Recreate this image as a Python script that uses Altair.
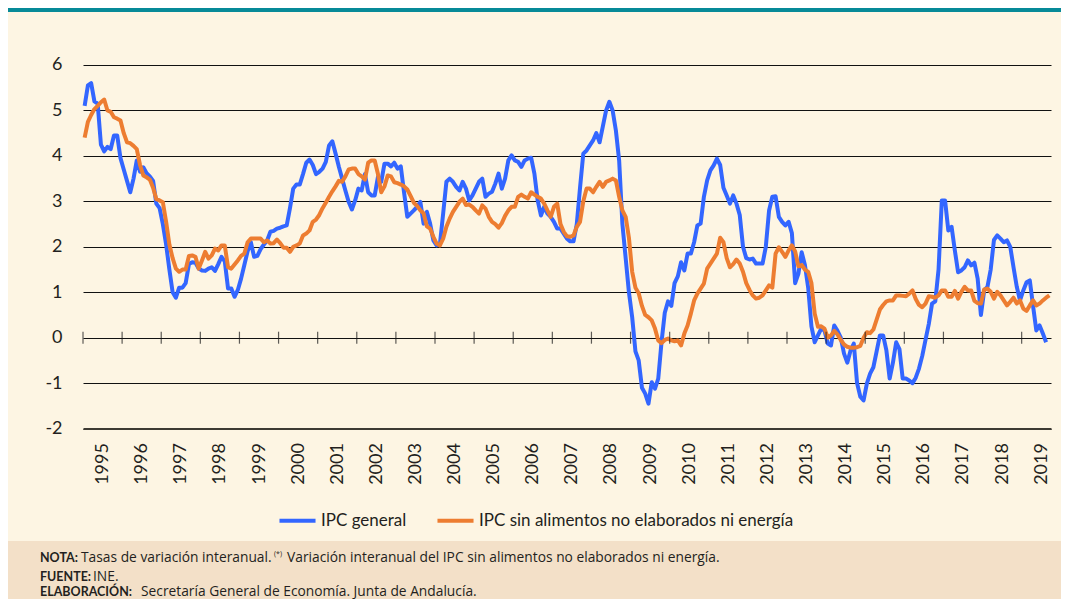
import altair as alt
import pandas as pd

SERIES = ["IPC general", "IPC sin alimentos no elaborados ni energía"]
COLORS = ["#3366ff", "#ed7d31"]
years = list(range(1995, 2020))
y_ticks = [-2, -1, 0, 1, 2, 3, 4, 5, 6]

# Monthly year-on-year rates, Jan 1995 onwards
ipc_general = [
    5.1, 5.55, 5.6, 5.2, 5.15, 4.25, 4.1, 4.2, 4.15, 4.45, 4.45, 3.95,
    3.7, 3.45, 3.2, 3.5, 3.9, 3.65, 3.75, 3.62, 3.55, 3.45, 2.95, 2.85,
    2.5, 2.05, 1.5, 1.0, 0.88, 1.1, 1.1, 1.2, 1.62, 1.66, 1.65, 1.52,
    1.48, 1.47, 1.52, 1.55, 1.47, 1.62, 1.78, 1.68, 1.08, 1.08, 0.9, 1.05,
    1.3, 1.6, 1.9, 2.1, 1.78, 1.8, 1.95, 2.05, 2.14, 2.33, 2.35, 2.4,
    2.42, 2.45, 2.47, 2.85, 3.28, 3.37, 3.37, 3.6, 3.85, 3.92, 3.8, 3.6,
    3.65, 3.72, 3.87, 4.23, 4.32, 4.05, 3.76, 3.5, 3.24, 2.99, 2.82, 3.02,
    3.28, 3.24, 3.6, 3.2, 3.13, 3.13, 3.54, 3.43, 3.83, 3.83, 3.77, 3.85,
    3.72, 3.77, 3.2, 2.66, 2.73, 2.8, 2.88, 2.99, 2.51, 2.77, 2.51, 2.14,
    2.03, 2.05, 2.73, 3.43, 3.5, 3.43, 3.32, 3.24, 3.43, 3.28, 3.02, 3.13,
    3.28, 3.43, 3.5, 3.1, 3.17, 3.21, 3.39, 3.61, 3.28, 3.5, 3.9, 4.01,
    3.9, 3.87, 3.76, 3.9, 3.94, 3.96, 3.61, 3.02, 2.69, 2.88, 2.73, 2.66,
    2.55, 2.4, 2.4, 2.29, 2.18, 2.12, 2.12, 2.5, 3.3, 4.05, 4.12, 4.23,
    4.34, 4.5, 4.3, 4.65, 5.0, 5.19, 5.0, 4.56, 3.9, 2.5, 1.75, 1.0,
    0.45, -0.3, -0.5, -1.1, -1.23, -1.45, -0.98, -1.12, -0.9, -0.1, 0.55, 0.8,
    0.7, 1.2, 1.35, 1.66, 1.48, 1.85, 1.85, 2.1, 2.47, 2.51, 3.1, 3.46,
    3.68, 3.79, 3.94, 3.8, 3.3, 3.13, 2.95, 3.13, 2.95, 2.7, 2.0, 1.75,
    1.72, 1.74, 1.63, 1.63, 1.63, 2.0, 2.8, 3.1, 3.11, 2.66, 2.55, 2.47,
    2.55, 2.3, 1.2, 1.41, 1.88, 1.6, 1.1, 0.25, -0.1, 0.05, 0.2, 0.16,
    -0.13, -0.17, 0.27, 0.15, 0.0, -0.35, -0.55, -0.28, -0.13, -1.0, -1.3, -1.38,
    -1.01, -0.79, -0.65, -0.3, 0.05, 0.05, -0.28, -0.9, -0.55, -0.1, -0.25, -0.9,
    -0.9, -0.94, -1.0, -0.88, -0.68, -0.4, -0.05, 0.3, 0.75, 0.8, 1.5, 3.02,
    3.02, 2.36, 2.44, 1.92, 1.44, 1.48, 1.55, 1.7, 1.59, 1.65, 1.3, 0.5,
    1.04, 1.12, 1.5, 2.15, 2.25, 2.18, 2.1, 2.14, 2.0, 1.55, 1.12, 0.82,
    1.04, 1.22, 1.26, 0.7, 0.16, 0.27, 0.09, -0.1,
]

ipc_subyacente = [
    4.4, 4.75, 4.9, 5.03, 5.1, 5.18, 5.24, 5.0, 4.97, 4.85, 4.82, 4.78,
    4.5, 4.3, 4.28, 4.22, 4.15, 3.8, 3.57, 3.53, 3.48, 3.3, 3.05, 3.02,
    2.98, 2.55, 2.05, 1.75, 1.52, 1.45, 1.5, 1.5, 1.8, 1.81, 1.78, 1.52,
    1.7, 1.89, 1.74, 1.81, 1.96, 1.92, 2.03, 2.03, 1.55, 1.52, 1.61, 1.7,
    1.8, 1.85, 2.1, 2.18, 2.18, 2.18, 2.18, 2.1, 2.14, 2.07, 2.08, 2.16,
    2.08, 1.98, 1.98, 1.89, 2.0, 2.03, 2.07, 2.25, 2.29, 2.36, 2.55, 2.6,
    2.7, 2.85, 2.97, 3.1, 3.22, 3.33, 3.45, 3.43, 3.55, 3.7, 3.72, 3.72,
    3.6, 3.55, 3.48, 3.85, 3.9, 3.9, 3.6, 3.2, 3.33, 3.57, 3.55, 3.42,
    3.4, 3.37, 3.33, 3.26, 3.12, 2.97, 2.9, 2.8, 2.74, 2.45, 2.4, 2.22,
    2.07, 2.03, 2.18, 2.44, 2.62, 2.77, 2.88, 2.99, 3.06, 2.92, 2.93, 2.88,
    2.8, 2.73, 2.91, 2.84, 2.66, 2.55, 2.5, 2.42, 2.52, 2.68, 2.8, 2.88,
    2.88, 3.1, 3.15, 3.1, 3.06, 3.2, 3.15, 3.1, 3.06, 2.95, 2.8, 2.66,
    2.88, 2.95, 2.5, 2.33, 2.23, 2.22, 2.25, 2.44, 2.55, 3.0, 3.28, 3.28,
    3.2, 3.32, 3.43, 3.32, 3.43, 3.46, 3.5, 3.46, 3.1, 2.8, 2.66, 2.2,
    1.45, 1.1, 0.98, 0.7, 0.5, 0.45, 0.38, 0.2, -0.06, -0.12, -0.05, -0.02,
    -0.06, -0.08, -0.06, -0.17, 0.09, 0.27, 0.53, 0.82, 0.97, 1.08, 1.19, 1.52,
    1.63, 1.74, 1.85, 2.2, 2.1, 1.75, 1.55, 1.62, 1.72, 1.63, 1.45, 1.2,
    1.05, 0.93, 0.86, 0.88, 0.93, 1.04, 1.15, 1.1, 1.85, 1.99, 1.89, 1.78,
    1.92, 2.03, 1.9, 1.57, 1.6, 1.5, 1.45, 1.2, 0.53, 0.24, 0.25, 0.2,
    0.0, 0.05, 0.15, 0.07, -0.05, -0.15, -0.2, -0.22, -0.22, -0.21, -0.18, 0.0,
    0.12, 0.1, 0.18, 0.4, 0.62, 0.72, 0.8, 0.82, 0.82, 0.93, 0.93, 0.92,
    0.91, 0.97, 1.04, 0.85, 0.72, 0.67, 0.75, 0.91, 0.9, 0.88, 0.93, 1.04,
    1.04, 0.9, 0.9, 1.03, 0.86, 1.01, 1.12, 1.04, 1.04, 0.81, 0.76, 0.75,
    1.06, 1.08, 1.01, 0.86, 1.01, 0.93, 0.82, 0.71, 0.79, 0.88, 0.75, 0.82,
    0.64, 0.59, 0.71, 0.82, 0.71, 0.75, 0.82, 0.88, 0.93,
]


def to_frame(values, name):
    rows = []
    for i, v in enumerate(values):
        year = 1995 + i // 12
        month = i % 12 + 1
        rows.append({"t": year + (month - 0.5) / 12, "v": v, "serie": name})
    return pd.DataFrame(rows)


df_gen = to_frame(ipc_general, SERIES[0])
df_sub = to_frame(ipc_subyacente, SERIES[1])
df_years = pd.DataFrame({"year": years})
one = pd.DataFrame({"k": [0]})

W = 968
H = 363.6
FONT = "Lato"
NOTE_FONT = "Open Sans"
TXT = "#231f20"

xscale = alt.Scale(domain=[1995, 2019.75], nice=False, zero=False)
yscale = alt.Scale(domain=[-2, 6], nice=False, zero=False)
cscale = alt.Scale(domain=SERIES, range=COLORS)

x_axis = alt.Axis(
    values=[y + 0.5 for y in years], labelExpr="floor(datum.value)",
    labelAngle=-90, labelFont=FONT, labelFontSize=18, labelColor=TXT,
    labelPadding=14, ticks=False, tickSize=0, grid=False, title=None,
    domain=True, domainColor="#3d3a33", domainWidth=2,
)
y_axis = alt.Axis(
    values=y_ticks, labelExpr="'' + datum.value", labelFont=FONT,
    labelFontSize=18, labelColor=TXT, labelPadding=21, ticks=False,
    domain=False, grid=True, gridColor="#111111", gridWidth=1.1, title=None,
)
legend = alt.Legend(
    title=None, orient="none", legendX=194, legendY=435,
    direction="horizontal", symbolType="stroke", symbolStrokeWidth=4,
    symbolSize=1300, labelFont=FONT, labelFontSize=17, labelColor=TXT,
    labelLimit=700, columnPadding=22, labelOffset=3,
)

teal = alt.Chart(one).mark_rect(color="#078a98").encode(
    x=alt.value(-75), x2=alt.value(W + 10), y=alt.value(-57), y2=alt.value(-53)
)
band = alt.Chart(one).mark_rect(color="#f3e0c8").encode(
    x=alt.value(-75), x2=alt.value(W + 10), y=alt.value(476), y2=alt.value(540)
)

line_gen = alt.Chart(df_gen).mark_line(strokeWidth=4, strokeJoin="round").encode(
    x=alt.X("t:Q", scale=xscale, axis=x_axis),
    y=alt.Y("v:Q", scale=yscale, axis=y_axis),
    color=alt.Color("serie:N", scale=cscale, legend=legend),
)
line_sub = alt.Chart(df_sub).mark_line(strokeWidth=4, strokeJoin="round").encode(
    x=alt.X("t:Q", scale=xscale),
    y=alt.Y("v:Q", scale=yscale),
    color=alt.Color("serie:N", scale=cscale, legend=legend),
)

ticks0 = alt.Chart(df_years).mark_tick(
    orient="vertical", size=12, thickness=1.2, color="#1a1a1a"
).encode(x=alt.X("year:Q", scale=xscale), y=alt.datum(0, scale=yscale))


def note(text, x, y, bold=False, size=13.8):
    return alt.Chart(one).mark_text(
        text=text, align="left", baseline="middle",
        font=FONT if bold else NOTE_FONT,
        fontSize=12.5 if bold else size,
        fontWeight="bold" if bold else "normal", color=TXT,
    ).encode(x=alt.value(x), y=alt.value(y))


notes = [
    note("NOTA:", -43, 493, bold=True),
    note("Tasas de variación interanual.", -2, 493),
    note("(*)", 191, 489, size=7),
    note("Variación interanual del IPC sin alimentos no elaborados ni energía.", 204, 493),
    note("FUENTE:", -43, 512, bold=True),
    note("INE.", 10, 512),
    note("ELABORACIÓN:", -43, 527, bold=True),
    note("Secretaría General de Economía. Junta de Andalucía.", 58, 527),
]

chart = alt.layer(
    teal, band, line_gen, line_sub, ticks0, *notes
).properties(
    width=W, height=H,
    autosize=alt.AutoSizeParams(type="none"),
    padding={"left": 75, "top": 57, "right": 10, "bottom": 170},
).configure(background="#fdf5e3").configure_view(stroke=None)

chart.save("out.html", embed_options={"renderer": "svg", "actions": False})
